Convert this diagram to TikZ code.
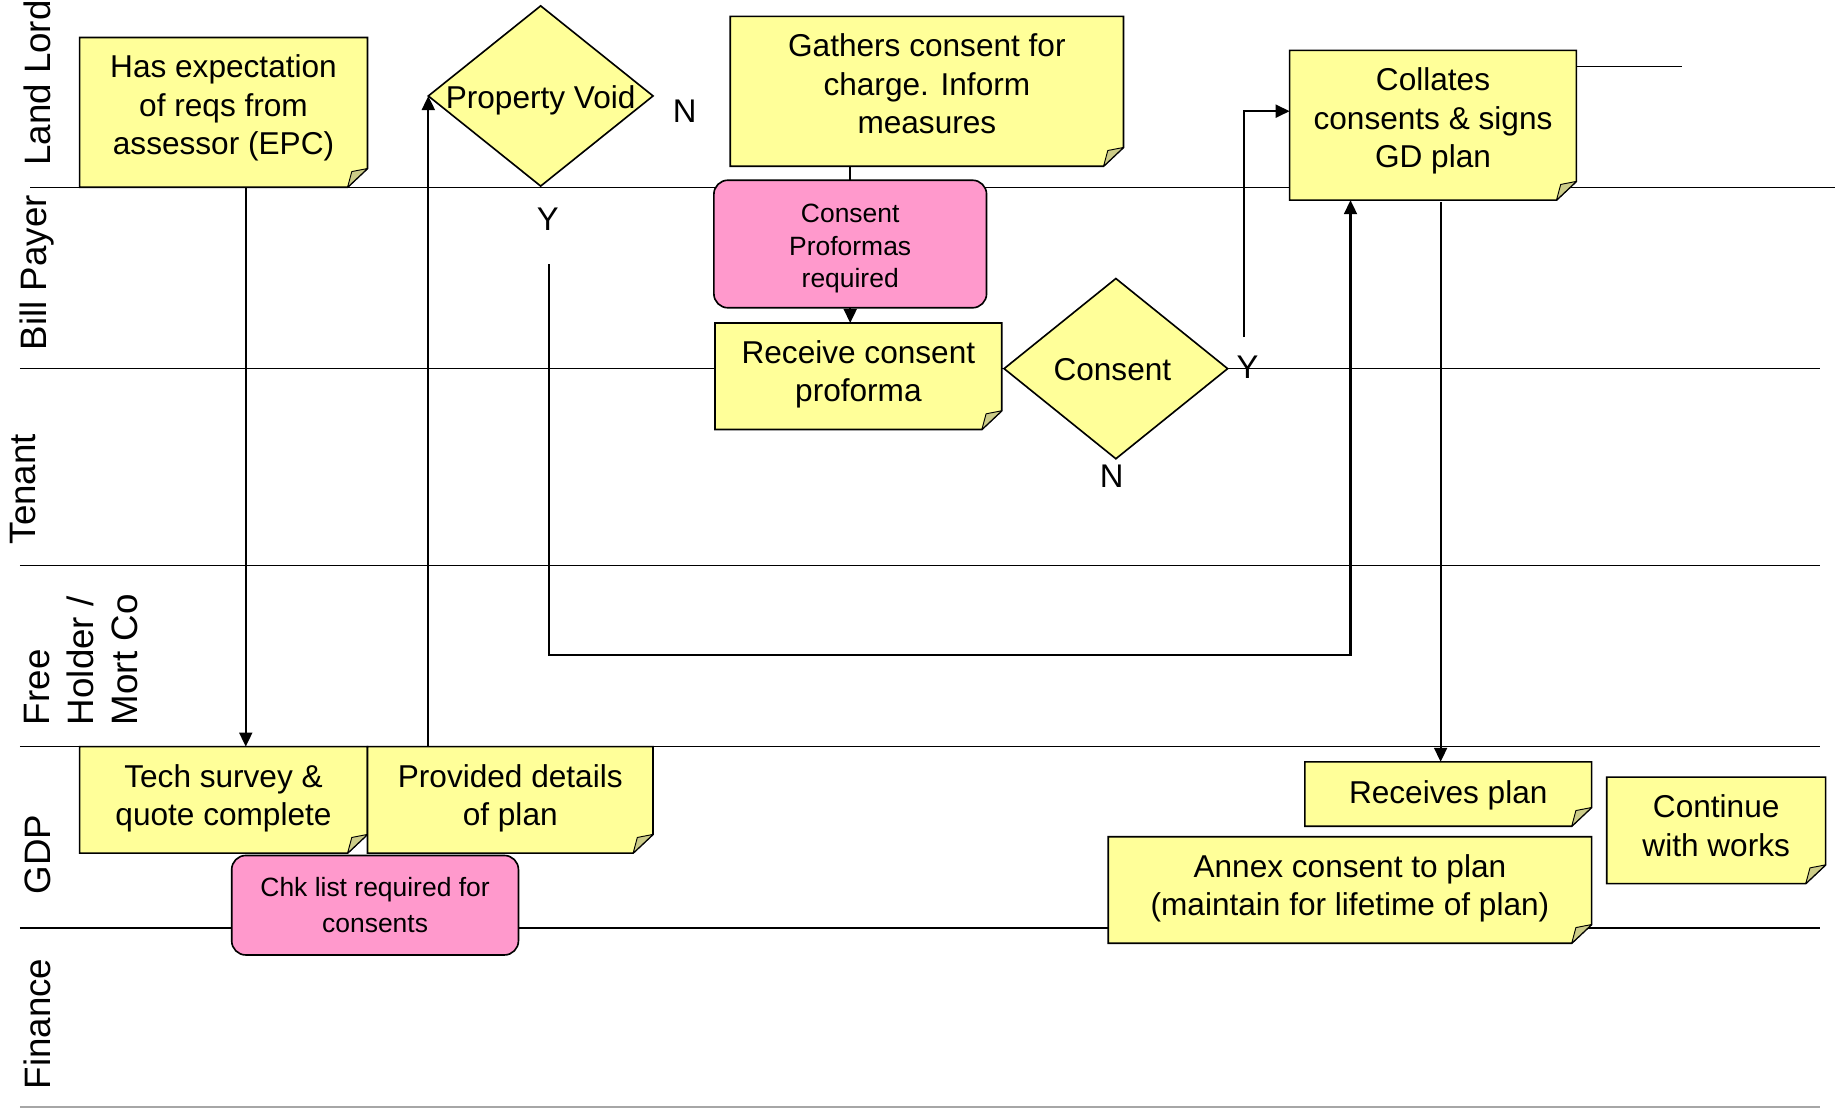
\documentclass[tikz,border=0pt]{standalone}
\usepackage{fontspec}
\setmainfont{Liberation Sans}
\usetikzlibrary{shapes.geometric,arrows.meta,calc}

\definecolor{noteyellow}{HTML}{FFFF99}
\definecolor{notefold}{HTML}{CCCC88}
\definecolor{notepink}{HTML}{FF99CC}

\pgfdeclarelayer{lanes}
\pgfdeclarelayer{shapes}
\pgfsetlayers{lanes,shapes,main}

\tikzset{
  boxtext/.style={align=center, font=\fontsize{13.5}{16.4}\selectfont, inner sep=0pt},
  frame/.style={rectangle, draw=none, inner sep=0pt, outer sep=0pt},
  noteedge/.style={draw=black, fill=noteyellow, line width=0.7pt, line join=miter},
  foldedge/.style={draw=black, fill=notefold, line width=0.4pt, line join=round},
  pinkbox/.style={rectangle, draw=black, fill=notepink, line width=0.7pt, rounded corners=6pt,
    inner sep=0pt, outer sep=0pt, align=center},
  decision/.style={diamond, draw=black, fill=noteyellow, line width=0.7pt, inner sep=0pt, outer sep=0pt},
  lane/.style={line width=0.6pt},
  lanename/.style={rotate=90, font=\fontsize{15.7}{18.8}\selectfont, inner sep=0pt},
  flow/.style={line width=0.95pt, -{Triangle[length=6pt,width=5.5pt]}},
  plainflow/.style={line width=0.95pt},
  yn/.style={font=\fontsize{14}{16}\selectfont, inner sep=0pt},
}

% sticky note: [text lift] name, x1, y1, x2, y2, text
\newcommand\stickynote[7][0.8pt]{%
  \pgfmathsetmacro\notew{(#5-#3)/2}%
  \pgfmathsetmacro\noteh{(#6-#4)/2}%
  \node[frame, minimum width=\notew pt, minimum height=\noteh pt] (#2) at ({(#3+#5)/2},{(#4+#6)/2}) {};
  \node[boxtext] (#2-text) at ([yshift=#1]#2.center) {#7};
  \begin{pgfonlayer}{shapes}
    \path[noteedge] (#2.north west) -- (#2.north east) -- ([yshift=8pt]#2.south east)
      -- ([xshift=-8.5pt]#2.south east) -- (#2.south west) -- cycle;
    \path[foldedge] ([xshift=-8.5pt]#2.south east) -- ([xshift=-6.7pt,yshift=6.7pt]#2.south east)
      -- ([yshift=8pt]#2.south east) -- cycle;
  \end{pgfonlayer}}

\begin{document}
\begin{tikzpicture}[x=0.5pt,y=-0.5pt]
\useasboundingbox (0,0) rectangle (1568,948);

% swim-lane separators
\begin{pgfonlayer}{lanes}
  \draw[lane] (26,160) -- (1568,160);
  \draw[lane] (17,315) -- (1555,315);
  \draw[lane] (17,483) -- (1555,483);
  \draw[lane] (17,638) -- (1555,638);
  \draw[lane] (17,793) -- (1555,793);
  \draw[lane, black!35] (17,946) -- (1555,946);
\end{pgfonlayer}

% lane names
\node[lanename] (lab-ll) at (32,71) {Land Lord};
\node[lanename] (lab-bp) at (32,233) {Bill Payer};
\node[lanename] (lab-t) at (20,418) {Tenant};
\node[lanename, anchor=west, align=left] (lab-fh) at (69,620) {Free\\Holder /\\Mort Co};
\node[lanename] (lab-gdp) at (32,730) {GDP};
\node[lanename] (lab-fin) at (32,875) {Finance};

% process notes
\stickynote[1.8pt]{n1}{68}{32}{314}{160}{Has expectation\\of reqs from\\assessor (EPC)}
\stickynote[3.2pt]{gath}{624}{14}{960}{142}{Gathers consent for\\charge. Inform\\measures}
\stickynote{recv}{611}{276}{856}{367}{Receive consent\\proforma}
\stickynote[1.8pt]{coll}{1102}{43}{1347}{171}{Collates\\consents \& signs\\GD plan}
\stickynote{tech}{68}{638}{314}{729}{Tech survey \&\\quote complete}
\stickynote{prov}{314}{638}{558}{729}{Provided details\\of plan}
\stickynote[-0.5pt]{rplan}{1115}{651}{1360}{706}{Receives plan}
\stickynote[2pt]{cont}{1373}{664}{1560}{755}{Continue\\with works}
\stickynote{annex}{947}{715}{1360}{806}{Annex consent to plan\\(maintain for lifetime of plan)}

% requirement boxes
\node[pinkbox, minimum width=116.5pt, minimum height=54.5pt] (pinkc) at (726.5,208.5) {};
\node[align=center, inner sep=0pt, font=\fontsize{11.3}{14}\selectfont] (pinkc-text)
  at ([yshift=-2pt]pinkc.center) {Consent\\Proformas\\required};
\node[pinkbox, minimum width=122.5pt, minimum height=42.5pt,
  font=\fontsize{11.3}{15.5}\selectfont] (pinkk) at (320.5,773.5) {Chk list required for\\consents};

% decisions
\node[decision, minimum width=96pt, minimum height=77pt] (pvoid) at (462,82) {};
\node[boxtext] (pvoid-text) at ([yshift=-1.8pt]pvoid.center) {Property Void};
\node[decision, minimum width=95.5pt, minimum height=77pt] (cons) at (953.5,315) {};
\node[boxtext] (cons-text) at ([xshift=-1.5pt,yshift=-0.5pt]cons.center) {Consent};

% decision outcomes
\node[yn] (pv-n) at (585,95) {N};
\node[yn] (pv-y) at (468,187) {Y};
\node[yn] (cs-y) at (1066,314) {Y};
\node[yn] (cs-n) at (950,407) {N};

% connectors
\draw[flow] ([xshift=9.5pt]n1.south) -- ([xshift=9.5pt]tech.north);
\draw[flow] (prov.north west -| pvoid.west) -- (pvoid.west);
\coordinate (pvy) at (469,226);
\coordinate (pvturn) at (469,560);
\draw[flow] (pvy) -- (pvturn) -| ([xshift=26pt]coll.south west);
\draw[plainflow] (pinkc.north) -- (pinkc.north |- gath.south);
\draw[flow] (pinkc.south) -- (pinkc.south |- recv.north);
\coordinate (csy) at (1063,288);
\draw[flow] (csy) |- ([yshift=6pt]coll.west);
\draw[flow] ([xshift=3.25pt,yshift=-1pt]coll.south) -- ([xshift=3.25pt]coll.south |- rplan.north);
\coordinate (loose) at (1437,57);
\draw[lane] (coll.east |- loose) -- (loose);

\end{tikzpicture}
\end{document}
